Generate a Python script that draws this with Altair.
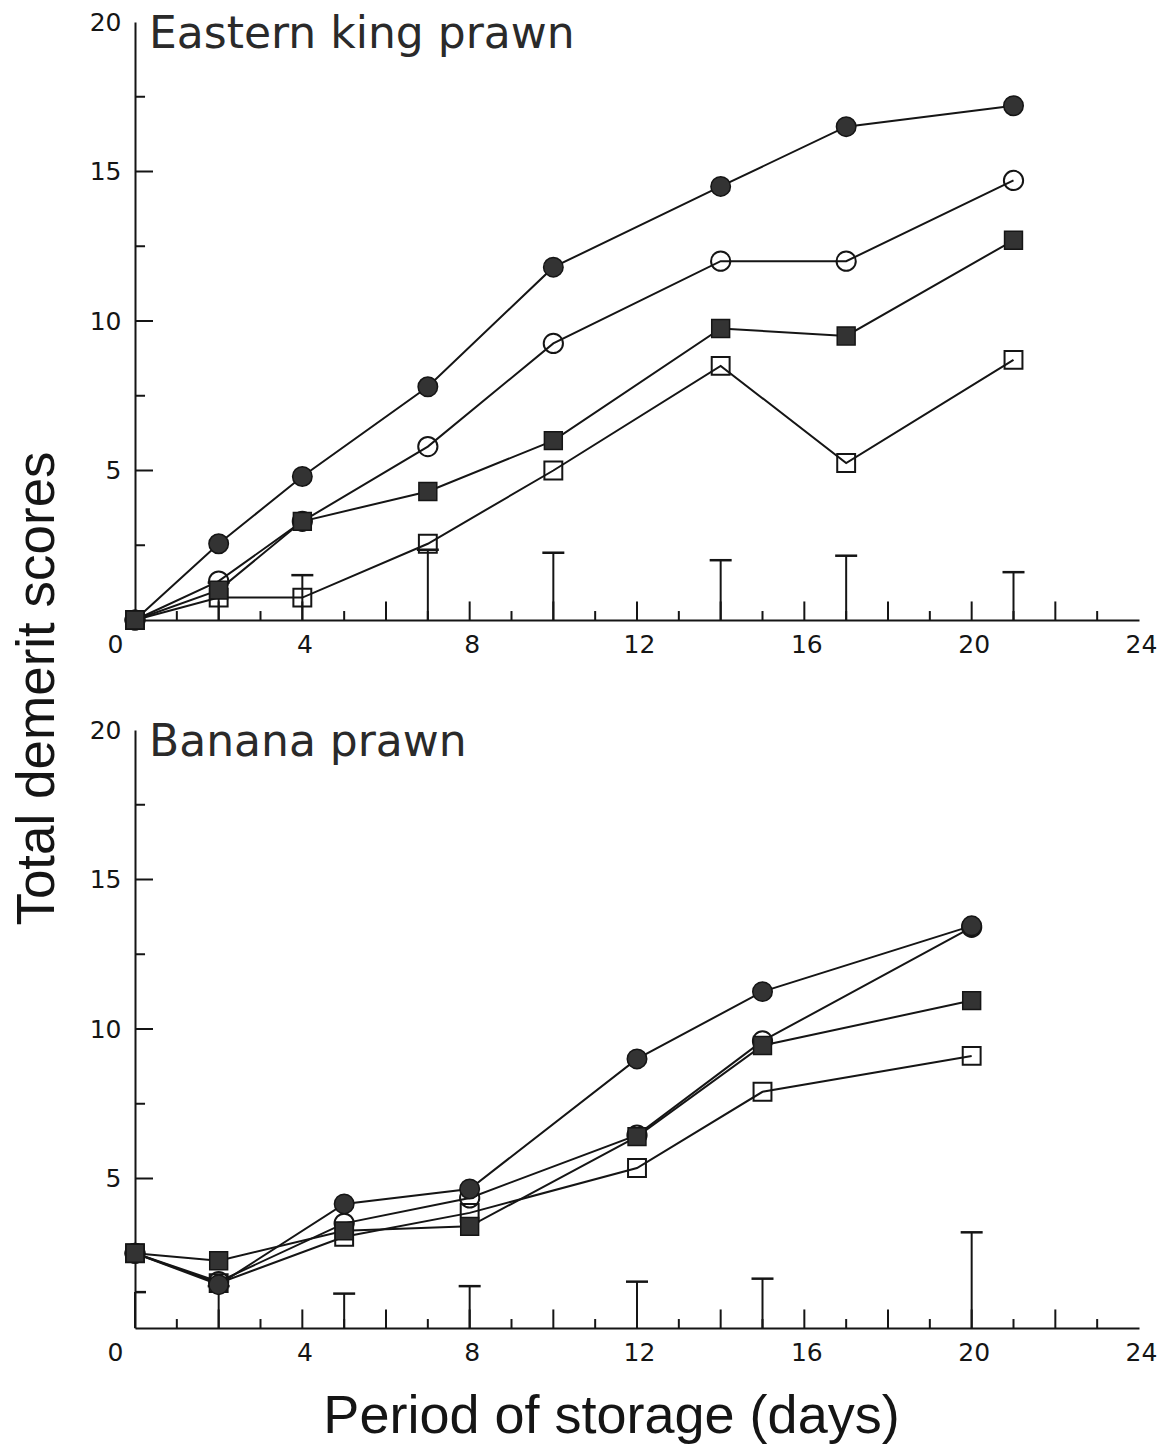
import altair as alt
import pandas as pd

# ---------------- data ----------------
# Eastern king prawn (top panel)
ekp_days = [0, 2, 4, 7, 10, 14, 17, 21]
ekp_filled_circle = [0, 2.55, 4.8, 7.8, 11.8, 14.5, 16.5, 17.2]
ekp_open_circle = [0, 1.3, 3.3, 5.8, 9.25, 12.0, 12.0, 14.7]
ekp_filled_square = [0, 1.0, 3.3, 4.3, 6.0, 9.75, 9.5, 12.7]
ekp_open_square = [0, 0.75, 0.75, 2.55, 5.0, 8.5, 5.25, 8.7]
ekp_err_days = [2, 4, 7, 10, 14, 17, 21]
ekp_err = [1.25, 1.5, 2.35, 2.25, 2.0, 2.15, 1.6]

# Banana prawn (bottom panel)
bp_days = [0, 2, 5, 8, 12, 15, 20]
bp_filled_circle = [2.5, 1.45, 4.15, 4.65, 9.0, 11.25, 13.45]
bp_open_circle = [2.5, 1.55, 3.5, 4.35, 6.45, 9.6, 13.4]
bp_filled_square = [2.5, 2.25, 3.25, 3.4, 6.4, 9.45, 10.95]
bp_open_square = [2.5, 1.5, 3.05, 3.85, 5.35, 7.9, 9.1]
bp_err_days = [0, 2, 5, 8, 12, 15, 20]
bp_err = [1.2, 1.4, 1.15, 1.4, 1.55, 1.65, 3.2]

x_label_values = [0, 4, 8, 12, 16, 20, 24]
y_label_values = [5, 10, 15, 20]
x_major_ticks = [2, 4, 6, 8, 10, 12, 14, 16, 18, 20, 22]
x_minor_ticks = [1, 3, 5, 7, 9, 11, 13, 15, 17, 19, 21, 23]
y_major_ticks = [5, 10, 15]
y_minor_ticks = [2.5, 7.5, 12.5, 17.5]

# ---------------- styling ----------------
INK = "#151515"
FILL = "#333333"
LABEL_FONT = "DejaVu Sans"
TITLE_FONT = "Liberation Sans"
W, H = 1004, 598
X_MAJOR_LEN, X_MINOR_LEN = 0.62, 0.3     # in score units
Y_MAJOR_LEN, Y_MINOR_LEN = 0.43, 0.24    # in days

series_order = ["open square", "open circle", "filled circle", "filled square"]
marker_style = {
    "open square": dict(shape="square", filled=False, size=320),
    "open circle": dict(shape="circle", filled=False, size=370),
    "filled circle": dict(shape="circle", filled=True, size=380),
    "filled square": dict(shape="square", filled=True, size=320),
}


def panel(days, series_vals, err_days, err_vals, label, bottom):
    x_axis = alt.Axis(
        values=x_label_values, ticks=False, grid=False, domain=True,
        domainColor=INK, domainWidth=2, labelFont=LABEL_FONT, labelFontSize=25,
        labelColor=INK, labelPadding=12, labelFlush=False,
        labelOffset={"condition": {"test": "datum.value === 0", "value": -20}, "value": 2},
        title="Period of storage (days)" if bottom else None,
        titleFont=TITLE_FONT, titleFontSize=54, titleFontWeight="normal",
        titleColor=INK, titleX=476, titleY=104, titleBaseline="alphabetic",
    )
    y_axis = alt.Axis(
        values=y_label_values, ticks=False, grid=False, domain=True,
        domainColor=INK, domainWidth=2, labelFont=LABEL_FONT, labelFontSize=25,
        labelColor=INK, labelPadding=14,
        title="Total demerit scores" if bottom else None,
        titleFont=TITLE_FONT, titleFontSize=53, titleFontWeight="normal",
        titleColor=INK, titleX=-82, titleY=-42, titleBaseline="alphabetic",
    )
    X = alt.X("day:Q", scale=alt.Scale(domain=[0, 24], nice=False, zero=False), axis=x_axis)
    Y = alt.Y("value:Q", scale=alt.Scale(domain=[0, 20], nice=False), axis=y_axis)

    rows = []
    for s in series_order:
        for d, v in zip(days, series_vals[s]):
            rows.append({"day": d, "value": v, "series": s})
    df = pd.DataFrame(rows)

    lines = alt.Chart(df).mark_line(color=INK, strokeWidth=2).encode(
        x=X, y=Y, detail="series:N"
    )

    # inward axis ticks
    xt = pd.DataFrame(
        [{"day": d, "value": 0, "value2": X_MAJOR_LEN} for d in x_major_ticks]
        + [{"day": d, "value": 0, "value2": X_MINOR_LEN} for d in x_minor_ticks]
    )
    yt = pd.DataFrame(
        [{"day": 0, "day2": Y_MAJOR_LEN, "value": v} for v in y_major_ticks]
        + [{"day": 0, "day2": Y_MINOR_LEN, "value": v} for v in y_minor_ticks]
    )
    xticks = alt.Chart(xt).mark_rule(color=INK, strokeWidth=2).encode(
        x=X, y=Y, y2="value2:Q"
    )
    yticks = alt.Chart(yt).mark_rule(color=INK, strokeWidth=2).encode(
        x=X, x2="day2:Q", y=Y
    )

    # error bars
    ed = pd.DataFrame({"day": err_days, "value": [0] * len(err_days), "value2": err_vals})
    stems = alt.Chart(ed).mark_rule(color=INK, strokeWidth=2).encode(
        x=X, y=Y, y2="value2:Q"
    )
    cd = pd.DataFrame({"day": err_days, "day2": err_days, "value": err_vals})
    caps = alt.Chart(cd).mark_rule(
        color=INK, strokeWidth=2.5, xOffset=-11, x2Offset=11, clip=True
    ).encode(x=X, x2="day2:Q", y=Y)

    layers = [xticks, yticks, stems, caps, lines]
    for s in series_order:
        st = marker_style[s]
        sub = df[df["series"] == s]
        if st["filled"]:
            mk = alt.Chart(sub).mark_point(
                shape=st["shape"], filled=True, size=st["size"], fill=FILL,
                stroke=INK, strokeWidth=1.5, opacity=1,
            )
        else:
            mk = alt.Chart(sub).mark_point(
                shape=st["shape"], filled=False, size=st["size"],
                stroke=INK, strokeWidth=2, opacity=1,
            )
        layers.append(mk.encode(x=X, y=Y))

    title_df = pd.DataFrame({"label": [label]})
    txt = alt.Chart(title_df).mark_text(
        align="left", baseline="alphabetic", font=LABEL_FONT, fontSize=44,
        color="#2a2a2a",
    ).encode(x=alt.value(14), y=alt.value(26), text="label:N")
    layers.append(txt)

    return alt.layer(*layers).properties(width=W, height=H)


top = panel(
    ekp_days,
    {"filled circle": ekp_filled_circle, "open circle": ekp_open_circle,
     "filled square": ekp_filled_square, "open square": ekp_open_square},
    ekp_err_days, ekp_err, "Eastern king prawn", False,
)
bottom = panel(
    bp_days,
    {"filled circle": bp_filled_circle, "open circle": bp_open_circle,
     "filled square": bp_filled_square, "open square": bp_open_square},
    bp_err_days, bp_err, "Banana prawn", True,
)

chart = alt.vconcat(top, bottom, spacing=110, bounds="flush").properties(
    padding={"left": 10, "top": 10, "right": 5, "bottom": 5},
    background="white",
).configure_view(stroke=None)

chart.save("out.html", embed_options={"renderer": "svg", "actions": False})
